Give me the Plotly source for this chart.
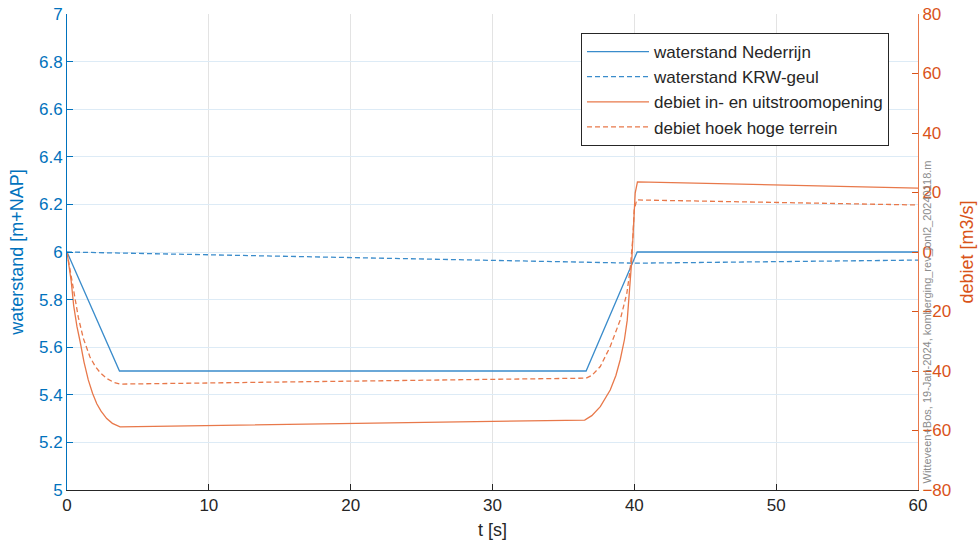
import plotly.graph_objects as go

# --- data ---
t_ned = [0, 3.7, 36.6, 40.2, 60]
h_ned = [6.0, 5.5, 5.5, 6.0, 6.0]

t_krw = [0, 40.1, 60]
h_krw = [6.0, 5.953, 5.966]

t_q1 = [0, 0.15, 0.3, 0.47, 0.7, 0.92, 1.2, 1.5, 1.8, 2.1, 2.4, 2.8, 3.2, 3.74,
        36.5, 37.0, 37.6, 38.3, 38.7, 39.0, 39.3, 39.5, 39.7, 39.82, 39.94, 40.06, 40.22, 60]
q1 = [0, -5, -10, -18, -25, -30, -37, -43, -47.5, -51, -53.5, -56, -57.6, -58.8,
      -56.5, -55, -52, -46.4, -41.5, -36.3, -29.5, -22.9, -11.7, -2.7, 8.5, 19.8, 23.6, 21.5]

t_q2 = [0, 0.15, 0.3, 0.5, 0.8, 1.15, 1.62, 2.0, 2.33, 2.8, 3.3, 3.74,
        36.6, 37.0, 37.6, 38.3, 39.0, 39.47, 39.7, 39.9, 39.99, 40.17, 60]
q2 = [0, -4, -8, -14, -22, -29, -35.3, -38.5, -40.5, -42.5, -43.8, -44.4,
      -42.4, -41.5, -38.5, -31.8, -22.9, -13.9, -6.1, 5.1, 14.1, 17.5, 15.8]

x_ticks = [0, 10, 20, 30, 40, 50, 60]
y_ticks = [5, 5.2, 5.4, 5.6, 5.8, 6, 6.2, 6.4, 6.6, 6.8, 7]
y_ticktext = ["5", "5.2", "5.4", "5.6", "5.8", "6", "6.2", "6.4", "6.6", "6.8", "7"]
y2_ticks = [-80, -60, -40, -20, 0, 20, 40, 60, 80]

names = ["waterstand Nederrijn", "waterstand KRW-geul",
         "debiet in- en uitstroomopening", "debiet hoek hoge terrein"]
watermark = "Witteveen+Bos, 19-Jan-2024, komberging_rev_jonl2_20240118.m"

BLUE = "#0072BD"
ORANGE = "#D95319"
BLUE_L = "#3A8CCB"
ORANGE_L = "#E8784A"
FONT = "Liberation Sans, Arial, sans-serif"

fig = go.Figure()
fig.add_trace(go.Scatter(x=t_ned, y=h_ned, mode="lines", name=names[0],
                         line=dict(color=BLUE_L, width=1.3)))
fig.add_trace(go.Scatter(x=t_krw, y=h_krw, mode="lines", name=names[1],
                         line=dict(color=BLUE_L, width=1.3, dash="5px,3px")))
fig.add_trace(go.Scatter(x=t_q1, y=q1, mode="lines", name=names[2], yaxis="y2",
                         line=dict(color=ORANGE_L, width=1.3)))
fig.add_trace(go.Scatter(x=t_q2, y=q2, mode="lines", name=names[3], yaxis="y2",
                         line=dict(color=ORANGE_L, width=1.3, dash="5px,3px")))

fig.update_layout(
    width=980, height=552,
    margin=dict(l=67, r=62, t=14, b=62, autoexpand=False),
    paper_bgcolor="white", plot_bgcolor="white",
    font=dict(family=FONT, size=16, color="#262626"),
    showlegend=True,
    legend=dict(x=0.604, y=0.96, xanchor="left", yanchor="top",
                bgcolor="white", bordercolor="#262626", borderwidth=1,
                font=dict(family=FONT, size=17, color="#262626"),
                itemwidth=62, tracegroupgap=0),
    xaxis=dict(range=[0, 60], tickvals=x_ticks, showgrid=True, gridcolor="#E3E3E3",
               zeroline=False, showline=True, linecolor="#262626", linewidth=1,
               ticks="inside", ticklen=6, tickcolor="#262626", automargin=False,
               tickfont=dict(size=17, color="#262626"),
               title=dict(text="t [s]", font=dict(size=18, color="#262626"), standoff=8)),
    yaxis=dict(range=[5, 7], tickvals=y_ticks, ticktext=y_ticktext,
               showgrid=True, gridcolor="#DDEBF6", zeroline=False,
               showline=True, linecolor=BLUE, linewidth=1, automargin=False,
               ticks="inside", ticklen=6, tickcolor=BLUE,
               tickfont=dict(size=17, color=BLUE),
               title=dict(text="waterstand [m+NAP]", font=dict(size=18, color=BLUE), standoff=10)),
    yaxis2=dict(range=[-80, 80], tickvals=y2_ticks, overlaying="y", side="right",
                showgrid=False, zeroline=False, automargin=False,
                showline=True, linecolor=ORANGE_L, linewidth=1,
                ticks="inside", ticklen=6, tickcolor=ORANGE,
                tickfont=dict(size=17, color=ORANGE),
                title=dict(text="debiet [m3/s]", font=dict(size=18, color=ORANGE), standoff=10)),
    annotations=[dict(text=watermark, xref="paper", yref="paper", x=1.0, y=0.0,
                      xanchor="left", yanchor="bottom", xshift=0, yshift=4,
                      textangle=-90, showarrow=False,
                      font=dict(family=FONT, size=11, color="#8C8C8C"))],
)

fig.write_html("out.html")
